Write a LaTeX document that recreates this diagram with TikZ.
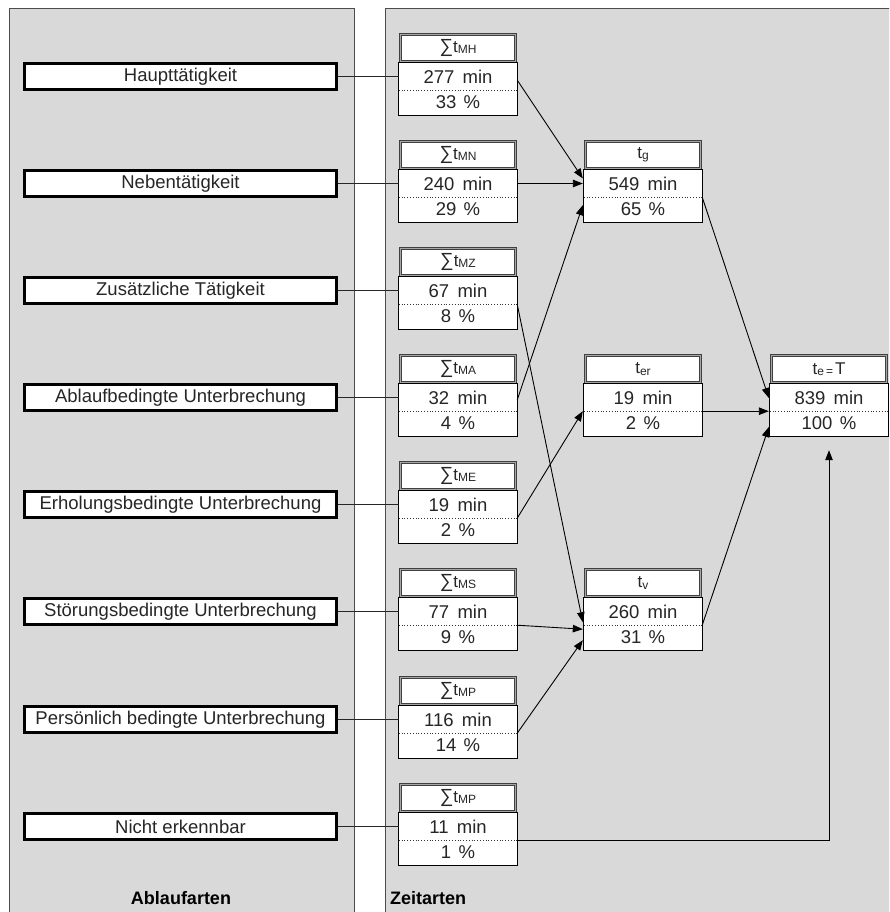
\documentclass[tikz,border=0pt]{standalone}
\usepackage{fontspec}
\setmainfont{Liberation Sans}
\usetikzlibrary{arrows.meta,calc}
\definecolor{panelgray}{HTML}{D9D9D9}
\definecolor{txtgray}{HTML}{262626}
\newcommand\sbs[1]{{\fontsize{12}{12}\selectfont\raisebox{-1.5pt}{#1}}}
\newcommand\sumsym{{\fontsize{19}{19}\selectfont\raisebox{-0.5pt}{\char"2211}}}
\newcommand\zbox[6]{%
  \node[hdr] (#1h) at (#2,#3+15) {#4};
  \node[cell,minimum height=27pt] (#1a) at (#2,#3+43.5) {#5};
  \node[cell,minimum height=25pt] (#1b) at (#2,#3+69.5) {#6};
  \draw[cellbox] (#1a.north west) rectangle (#1b.south east);
  \draw[sep] (#1a.south west) -- (#1a.south east);
}
\begin{document}
\begin{tikzpicture}[x=1pt,y=-1pt,
  panel/.style={fill=panelgray, draw=black!70, line width=0.9pt},
  lbl/.style={draw=black, line width=2.8pt, fill=white, minimum width=312pt,
    minimum height=26.4pt, inner sep=0pt, text=txtgray, font=\fontsize{18.5}{20}\selectfont},
  hdr/.style={draw=black!75, double=black!35, double distance=0.8pt, line width=0.9pt,
    fill=white, minimum width=115pt, minimum height=27pt, inner sep=0pt,
    text=txtgray, font=\fontsize{17}{19}\selectfont},
  cell/.style={fill=white, minimum width=118pt, inner sep=0pt, text=txtgray,
    font=\fontsize{18.5}{20}\selectfont},
  cellbox/.style={draw=black, line width=0.9pt},
  sep/.style={draw=black!80, dotted, line width=0.8pt},
  link/.style={draw=black!85, line width=0.9pt},
  arr/.style={draw=black, line width=0.9pt, -{Triangle[length=10pt,width=7.5pt]}},
  title/.style={font=\bfseries\fontsize{18}{20}\selectfont, text=black, inner sep=0pt}
]
\useasboundingbox (0,0) rectangle (889,912);
\begin{scope}
\clip (0,0) rectangle (889,912);
\draw[panel] (9,8) rectangle (354,930);
\draw[panel] (385,8) rectangle (900,930);
\end{scope}

% left labels
\node[lbl] (l1) at (180.5,76.5) {Haupttätigkeit};
\node[lbl] (l2) at (180.5,183.5) {Nebentätigkeit};
\node[lbl] (l3) at (180.5,290.5) {Zusätzliche Tätigkeit};
\node[lbl] (l4) at (180.5,397.5) {Ablaufbedingte Unterbrechung};
\node[lbl] (l5) at (180.5,504.5) {Erholungsbedingte Unterbrechung};
\node[lbl] (l6) at (180.5,611.5) {Störungsbedingte Unterbrechung};
\node[lbl] (l7) at (180.5,719.5) {Persönlich bedingte Unterbrechung};
\node[lbl] (l8) at (180.5,826.5) {Nicht erkennbar};

% time boxes
\zbox{mh}{458}{33}{\sumsym t\sbs{MH}}{277\hspace{0.45em}min}{33\hspace{0.4em}\%}
\zbox{mn}{458}{140}{\sumsym t\sbs{MN}}{240\hspace{0.45em}min}{29\hspace{0.4em}\%}
\zbox{mz}{458}{247}{\sumsym t\sbs{MZ}}{67\hspace{0.45em}min}{8\hspace{0.4em}\%}
\zbox{ma}{458}{354}{\sumsym t\sbs{MA}}{32\hspace{0.45em}min}{4\hspace{0.4em}\%}
\zbox{me}{458}{461}{\sumsym t\sbs{ME}}{19\hspace{0.45em}min}{2\hspace{0.4em}\%}
\zbox{ms}{458}{568}{\sumsym t\sbs{MS}}{77\hspace{0.45em}min}{9\hspace{0.4em}\%}
\zbox{mp}{458}{676}{\sumsym t\sbs{MP}}{116\hspace{0.45em}min}{14\hspace{0.4em}\%}
\zbox{ne}{458}{783}{\sumsym t\sbs{MP}}{11\hspace{0.45em}min}{1\hspace{0.4em}\%}

\zbox{tg}{643}{140}{t\sbs{g}}{549\hspace{0.45em}min}{65\hspace{0.4em}\%}
\zbox{ter}{643}{354}{t\sbs{er}}{19\hspace{0.45em}min}{2\hspace{0.4em}\%}
\zbox{tv}{643}{568}{t\sbs{v}}{260\hspace{0.45em}min}{31\hspace{0.4em}\%}
\zbox{te}{829}{354}{t\sbs{e\,=\,}T}{839\hspace{0.45em}min}{100\hspace{0.4em}\%}

% left connectors
\draw[link] (l1.east) -- (mha.west);
\draw[link] (l2.east) -- (mna.west);
\draw[link] (l3.east) -- (mza.west);
\draw[link] (l4.east) -- (maa.west);
\draw[link] (l5.east) -- (mea.west);
\draw[link] (l6.east) -- (msa.west);
\draw[link] (l7.east) -- (mpa.west);
\draw[link] (l8.east) -- (nea.west);

% arrows
\draw[arr] ($(mha.east)+(0,3.5)$) -- ($(tga.west)+(-1,-5)$);
\draw[arr] (mna.east) -- ($(tga.west)+(-1,0)$);
\draw[arr] ($(maa.east)+(0,2.5)$) -- ($(tga.south west)+(-1,8)$);
\draw[arr] (mza.south east) -- ($(tva.south west)+(-1,-3)$);
\draw[arr] (mea.south east) -- ($(tera.south west)+(-1,0)$);
\draw[arr] (msa.south east) -- ($(tva.south west)+(-1,4)$);
\draw[arr] (mpa.south east) -- ($(tva.south west)+(-1,15)$);
\draw[arr] (tga.south east) -- ($(tea.west)+(-1,0.5)$);
\draw[arr] (tera.south east) -- ($(tea.south west)+(-1,0)$);
\draw[arr] (tva.south east) -- ($(teb.west)+(-1,3.5)$);
\coordinate (tein) at ($(teb.south)+(0,14)$);
\draw[arr] (nea.south east) -| (tein);

% titles
\node[title] (t1) at (181,898) {Ablaufarten};
\node[title, anchor=west] (t2) at (390,898) {Zeitarten};
\end{tikzpicture}
\end{document}
